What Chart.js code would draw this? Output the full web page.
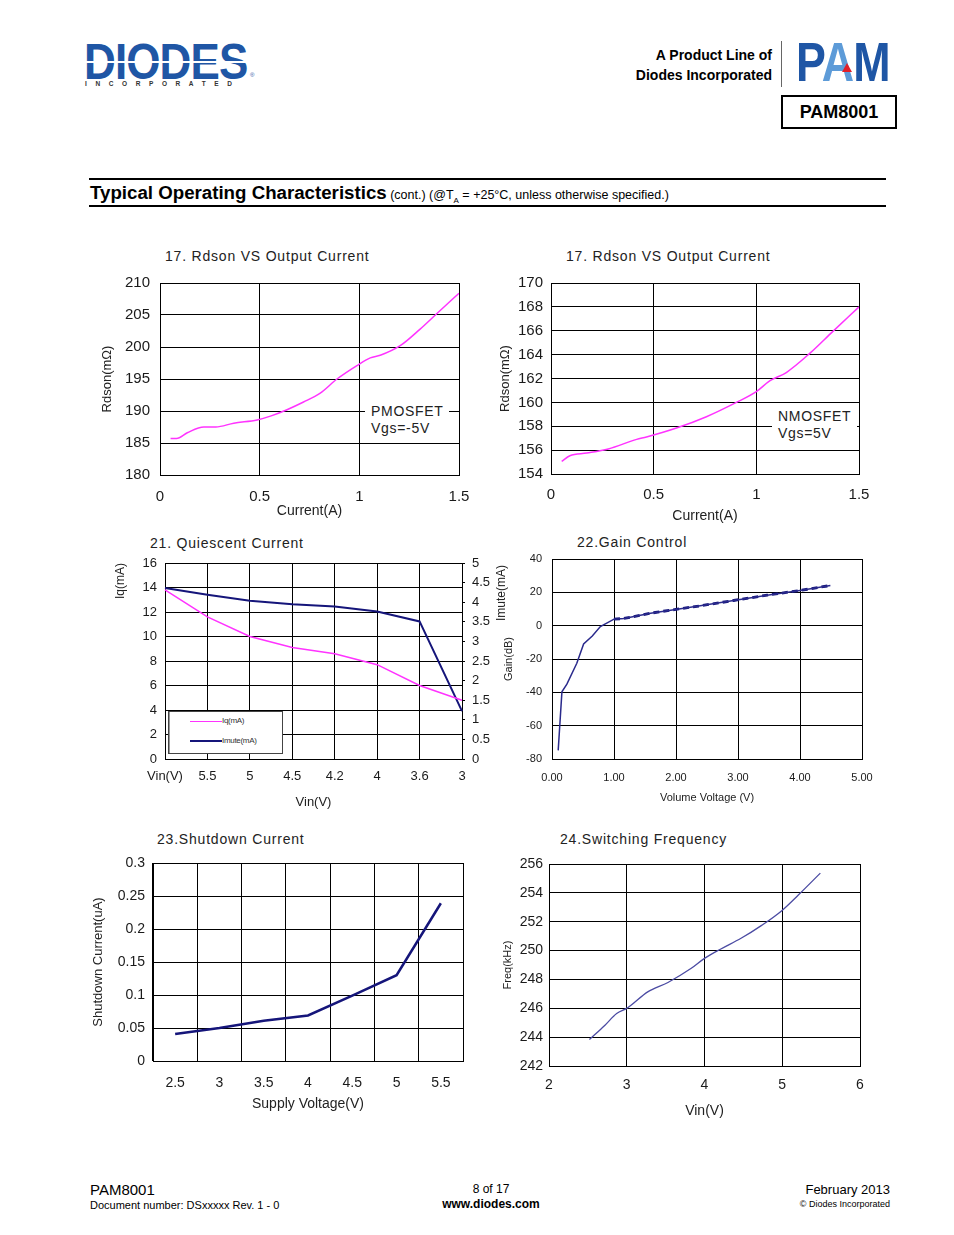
<!DOCTYPE html>
<html>
<head>
<meta charset="utf-8">
<title>PAM8001 - Typical Operating Characteristics</title>
<script src="https://cdn.jsdelivr.net/npm/chart.js@4.4.1/dist/chart.umd.min.js"></script>
<style>
  html, body { margin: 0; padding: 0; background: #fff; }
  body { width: 954px; height: 1235px; position: relative; overflow: hidden;
         font-family: 'Liberation Sans', Arial, sans-serif; color: #000; }
  .abs { position: absolute; white-space: nowrap; }
  .plot { position: absolute; }
  .plot canvas { display: block; }
  .ctitle { position: absolute; font-size: 14px; letter-spacing: 0.8px; color: #222;
            line-height: 16px; white-space: nowrap; }
  .note { position: absolute; background: #fff; font-size: 14px; letter-spacing: 0.7px;
          line-height: 17px; color: #222; white-space: nowrap; }
</style>
</head>
<body>

<!-- ═══ header ═══ -->
<div class="abs" style="left:84px;top:32px;font-size:50px;font-weight:bold;color:#1f56a5;letter-spacing:-1px;transform:scaleX(0.88);transform-origin:left top;line-height:60px;">DIODES</div>
<div class="abs" style="left:84px;top:61px;width:168px;height:2px;background:#fff;"></div>
<div class="abs" style="left:250px;top:72px;font-size:6px;color:#1f56a5;">®</div>
<div class="abs" style="left:85px;top:80px;font-size:6.5px;font-weight:bold;letter-spacing:8.6px;color:#333;">INCORPORATED</div>

<div class="abs" style="right:182px;top:45px;font-size:14px;font-weight:bold;text-align:right;line-height:20px;">A Product Line of<br>Diodes Incorporated</div>
<div class="abs" style="left:781px;top:41px;width:1px;height:46px;background:#666;"></div>
<div class="abs" style="left:796px;top:30px;font-size:56px;font-weight:bold;line-height:64px;transform:scaleX(0.8);transform-origin:left top;letter-spacing:-1px;">
  <span style="color:#1f56a5">P</span><span style="color:#5d9bd8">A</span><span style="color:#1f56a5">M</span>
</div>
<div class="abs" style="left:842px;top:63px;width:0;height:0;border-left:5px solid transparent;border-right:5px solid transparent;border-bottom:9px solid #e0202a;"></div>
<div class="abs" style="left:781px;top:95px;width:112px;height:30px;border:2px solid #000;font-size:18px;font-weight:bold;text-align:center;line-height:30px;">PAM8001</div>

<div class="abs" style="left:89px;top:178px;width:797px;height:2px;background:#000;"></div>
<div class="abs" style="left:90px;top:182px;line-height:22px;"><span style="font-size:18.7px;font-weight:bold;">Typical Operating Characteristics</span><span style="font-size:12.5px;"> (cont.) (@T<sub style="font-size:8px;">A</sub> = +25°C, unless otherwise specified.)</span></div>
<div class="abs" style="left:89px;top:205px;width:797px;height:2px;background:#000;"></div>

<!-- ═══ chart titles ═══ -->
<div class="ctitle" style="left:165px;top:248px;">17. Rdson VS Output Current</div>
<div class="ctitle" style="left:566px;top:248px;">17. Rdson VS Output Current</div>
<div class="ctitle" style="left:150px;top:535px;">21. Quiescent Current</div>
<div class="ctitle" style="left:577px;top:534px;">22.Gain Control</div>
<div class="ctitle" style="left:157px;top:831px;">23.Shutdown Current</div>
<div class="ctitle" style="left:560px;top:831px;">24.Switching Frequency</div>

<!-- ═══ chart frames ═══ -->
<div class="plot" id="pmos"><canvas></canvas></div>
<div class="plot" id="nmos"><canvas></canvas></div>
<div class="plot" id="quiescent"><canvas></canvas></div>
<div class="plot" id="gain"><canvas></canvas></div>
<div class="plot" id="shutdown"><canvas></canvas></div>
<div class="plot" id="freq"><canvas></canvas></div>

<!-- overlays -->
<div class="note" style="left:365px;top:403px;width:84px;height:35px;padding-left:6px;box-sizing:border-box;">PMOSFET<br>Vgs=-5V</div>
<div class="note" style="left:772px;top:408px;width:85px;height:34px;padding-left:6px;box-sizing:border-box;">NMOSFET<br>Vgs=5V</div>

<div class="abs" style="left:168px;top:711px;width:113px;height:41px;background:#fff;border:1px solid #444;box-shadow:inset 1px 0 0 #999;"></div>
<div class="abs" style="left:190px;top:721px;width:32px;height:1px;background:#ff33ff;"></div>
<div class="abs" style="left:222px;top:716px;font-size:8px;letter-spacing:-0.3px;color:#333;">Iq(mA)</div>
<div class="abs" style="left:190px;top:740px;width:32px;height:2px;background:#15157a;"></div>
<div class="abs" style="left:222px;top:736px;font-size:8px;letter-spacing:-0.3px;color:#333;">Imute(mA)</div>

<div class="abs" style="left:471px;top:585px;width:60px;text-align:center;font-size:12px;line-height:16px;color:#222;transform:rotate(-90deg);">Imute(mA)</div>

<!-- ═══ footer ═══ -->
<div class="abs" style="left:90px;top:1181px;font-size:15px;">PAM8001</div>
<div class="abs" style="left:90px;top:1199px;font-size:11px;">Document number: DSxxxxx Rev. 1 - 0</div>
<div class="abs" style="left:391px;width:200px;top:1182px;font-size:12px;text-align:center;">8 of 17</div>
<div class="abs" style="left:391px;width:200px;top:1197px;font-size:12px;font-weight:bold;text-align:center;">www.diodes.com</div>
<div class="abs" style="right:64px;top:1182px;font-size:13px;text-align:right;">February 2013</div>
<div class="abs" style="right:64px;top:1199px;font-size:9px;text-align:right;">© Diodes Incorporated</div>

<script>
/* ═══════════════════════════════════════════════════
   PAM8001 — typical operating characteristics
   ═══════════════════════════════════════════════════ */

// ─────────────────────────────────────────
//  DATA
// ─────────────────────────────────────────
const pmosCurrent = [0.053, 0.083, 0.137, 0.22, 0.28, 0.37, 0.487, 0.554, 0.637, 0.72, 0.804, 0.888, 0.988, 1.055, 1.105, 1.205, 1.305, 1.388, 1.5];
const pmosRdson   = [185.7, 185.7, 186.6, 187.5, 187.5, 188.1, 188.6, 189.2, 190.2, 191.4, 192.8, 195.0, 197.1, 198.3, 198.7, 200.2, 202.8, 205.2, 208.4];
const pmosYRange  = [180, 210, 5];

const nmosCurrent = [0.052, 0.092, 0.174, 0.279, 0.417, 0.465, 0.611, 0.757, 0.903, 1.0, 1.065, 1.146, 1.26, 1.373, 1.5];
const nmosRdson   = [155.06, 155.53, 155.75, 156.1, 156.9, 157.1, 157.85, 158.8, 160.0, 160.9, 161.8, 162.5, 164.1, 165.95, 168.0];
const nmosYRange  = [154, 170, 2];

const currentXRange = [0, 1.5, 0.5];

const vinLabels   = ['Vin(V)', '5.5', '5', '4.5', '4.2', '4', '3.6', '3'];
const iqValues    = [13.8, 11.6, 10.0, 9.1, 8.6, 7.7, 6.0, 4.8];
const imuteValues = [4.36, 4.19, 4.04, 3.95, 3.89, 3.76, 3.51, 1.22];
const iqRange     = [0, 16, 2];
const imuteRange  = [0, 5, 0.5];

const gainVolume  = [0.10, 0.16, 0.24, 0.40, 0.51, 0.65, 0.78, 1.0, 1.16, 1.59, 2.02, 2.39, 2.93, 3.47, 4.0, 4.49];
const gainDb      = [-74.8, -39.7, -35.1, -22.6, -11.0, -6.2, -0.5, 3.9, 4.3, 7.5, 9.9, 11.9, 15.1, 18.3, 21.1, 24.1];
const gainXRange  = [0, 5, 1];
const gainYRange  = [-80, 40, 20];

const supplyLabels   = ['2.5', '3', '3.5', '4', '4.5', '5', '5.5'];
const shutdownValues = [0.041, 0.050, 0.061, 0.069, 0.099, 0.130, 0.239];
const shutdownRange  = [0, 0.3, 0.05];

const freqVin    = [2.52, 2.72, 2.87, 3.01, 3.27, 3.53, 3.83, 4.0, 4.21, 4.47, 4.73, 4.99, 5.21, 5.49];
const freqKhz    = [243.83, 244.83, 245.64, 246.03, 247.14, 247.79, 248.77, 249.46, 250.11, 250.85, 251.73, 252.75, 253.87, 255.37];
const freqXRange = [2, 6, 1];
const freqYRange = [242, 256, 2];

// ─────────────────────────────────────────
//  HELPERS
// ─────────────────────────────────────────
const SANS = "'Liberation Sans', Arial, sans-serif";
const NARROW = "'Liberation Sans Narrow', 'Liberation Sans', Arial, sans-serif";
const INK = '#1a1a1a';
const MAGENTA = '#ff33ff';
const NAVY = '#15157a';

const pts = (xs, ys) => xs.map((x, i) => ({ x: x, y: ys[i] }));
const plain = v => String(+Number(v).toFixed(3));   // 0.30 -> "0.3", 5.0 -> "5"

// box: plot area (pl, pt, pr, pb) and frame (L, T, R, B) in page pixels
function axis(kind, box, o) {
    const s = {
        type: o.type || 'linear',
        position: o.position,
        offset: !!o.offset,
        grid: { color: '#000', lineWidth: 1, drawTicks: false, offset: !!o.offset },
        border: { color: '#000', width: 1 },
        ticks: {
            color: INK, padding: o.pad, autoSkip: false, maxRotation: 0,
            font: { family: o.family || SANS, size: o.size },
        },
    };
    if (o.range) {
        s.min = o.range[0];
        s.max = o.range[1];
        s.ticks.stepSize = o.range[2];
        s.ticks.callback = o.format || plain;
    }
    if (o.title) {
        s.title = {
            display: true, text: o.title, color: '#222', padding: 0,
            align: o.titleAlign || 'center',
            font: { family: o.titleFamily || SANS, size: o.titleSize },
        };
    }
    if (kind === 'x') s.afterFit = sc => { sc.height = box.B - box.pb; };
    else s.afterFit = sc => { sc.width = box.pl - box.L; };
    return s;
}

function drawChart(id, box, data, scales, rightW) {
    const wrap = document.getElementById(id);
    Object.assign(wrap.style, {
        left: box.L + 'px', top: box.T + 'px',
        width: (box.R - box.L) + 'px', height: (box.B - box.T) + 'px',
    });
    return new Chart(wrap.querySelector('canvas'), {
        type: 'line',
        data: data,
        options: {
            responsive: true,
            maintainAspectRatio: false,
            animation: false,
            layout: { padding: { left: 0, bottom: 0, top: box.pt - box.T, right: box.R - box.pr - (rightW || 0) } },
            plugins: { legend: { display: false }, tooltip: { enabled: false } },
            elements: { point: { radius: 0 } },
            scales: scales,
        },
    });
}

// ─────────────────────────────────────────
//  1. RDSON PMOSFET
// ─────────────────────────────────────────
const boxP = { pl: 160, pt: 283, pr: 459, pb: 475, L: 100, T: 259, R: 491, B: 520 };
drawChart('pmos', boxP, {
    datasets: [{ data: pts(pmosCurrent, pmosRdson), borderColor: MAGENTA, borderWidth: 1.5, cubicInterpolationMode: 'monotone' }],
}, {
    x: axis('x', boxP, { range: currentXRange, pad: 13, size: 15, title: 'Current(A)', titleSize: 14, titleFamily: NARROW }),
    y: axis('y', boxP, { range: pmosYRange, pad: 10, size: 15, title: 'Rdson(mΩ)', titleSize: 13 }),
});

// ─────────────────────────────────────────
//  2. RDSON NMOSFET
// ─────────────────────────────────────────
const boxN = { pl: 551, pt: 283, pr: 859, pb: 474, L: 498, T: 259, R: 891, B: 525 };
drawChart('nmos', boxN, {
    datasets: [{ data: pts(nmosCurrent, nmosRdson), borderColor: MAGENTA, borderWidth: 1.5, cubicInterpolationMode: 'monotone' }],
}, {
    x: axis('x', boxN, { range: currentXRange, pad: 12, size: 15, title: 'Current(A)', titleSize: 14, titleFamily: NARROW }),
    y: axis('y', boxN, { range: nmosYRange, pad: 8, size: 15, family: NARROW, title: 'Rdson(mΩ)', titleSize: 13 }),
});

// ─────────────────────────────────────────
//  3. QUIESCENT CURRENT (two y axes)
// ─────────────────────────────────────────
const boxQ = { pl: 165, pt: 563, pr: 462, pb: 759, L: 113, T: 539, R: 492, B: 810 };
const qRight = {
    type: 'linear', position: 'right',
    min: imuteRange[0], max: imuteRange[1],
    grid: { drawOnChartArea: false, drawTicks: true, tickLength: 3, color: '#000' },
    border: { color: '#000' },
    ticks: { stepSize: imuteRange[2], padding: 7, color: INK, autoSkip: false, callback: plain, font: { family: SANS, size: 13 } },
    afterFit: sc => { sc.width = 30; },
};
drawChart('quiescent', boxQ, {
    labels: vinLabels,
    datasets: [
        { data: iqValues, yAxisID: 'y', borderColor: MAGENTA, borderWidth: 1.5, tension: 0 },
        { data: imuteValues, yAxisID: 'y2', borderColor: NAVY, borderWidth: 2, tension: 0 },
    ],
}, {
    x: axis('x', boxQ, { type: 'category', pad: 10, size: 13, title: 'Vin(V)', titleSize: 13 }),
    y: axis('y', boxQ, { range: iqRange, pad: 8, size: 13, title: 'Iq(mA)', titleSize: 12, titleAlign: 'end' }),
    y2: qRight,
}, 30);

// ─────────────────────────────────────────
//  4. GAIN CONTROL
// ─────────────────────────────────────────
const boxG = { pl: 552, pt: 559, pr: 862, pb: 759, L: 502, T: 535, R: 894, B: 805 };
const gainPts = pts(gainVolume, gainDb);
drawChart('gain', boxG, {
    datasets: [
        { data: gainPts, borderColor: '#2a2a8c', borderWidth: 1.5, tension: 0 },
        { data: gainPts.filter(p => p.x >= 1), borderColor: '#16167a', borderWidth: 2.8, borderDash: [6, 4], tension: 0 },
    ],
}, {
    x: axis('x', boxG, { range: gainXRange, pad: 12, size: 11, format: v => Number(v).toFixed(2), title: 'Volume Voltage (V)', titleSize: 11 }),
    y: axis('y', boxG, { range: gainYRange, pad: 10, size: 11, title: 'Gain(dB)', titleSize: 11 }),
});

// ─────────────────────────────────────────
//  5. SHUTDOWN CURRENT
// ─────────────────────────────────────────
const boxS = { pl: 153, pt: 863, pr: 463, pb: 1061, L: 91, T: 839, R: 495, B: 1113 };
drawChart('shutdown', boxS, {
    labels: supplyLabels,
    datasets: [{ data: shutdownValues, borderColor: NAVY, borderWidth: 2.5, tension: 0 }],
}, {
    x: axis('x', boxS, { type: 'category', offset: true, pad: 14, size: 14, title: 'Supply Voltage(V)', titleSize: 14, titleFamily: NARROW }),
    y: axis('y', boxS, { range: shutdownRange, pad: 8, size: 14, title: 'Shutdown Current(uA)', titleSize: 13 }),
});

// ─────────────────────────────────────────
//  6. SWITCHING FREQUENCY
// ─────────────────────────────────────────
const boxF = { pl: 549, pt: 864, pr: 860, pb: 1066, L: 501, T: 840, R: 892, B: 1120 };
drawChart('freq', boxF, {
    datasets: [{ data: pts(freqVin, freqKhz), borderColor: '#4b4ba3', borderWidth: 1.3, cubicInterpolationMode: 'monotone' }],
}, {
    x: axis('x', boxF, { range: freqXRange, pad: 11, size: 14, title: 'Vin(V)', titleSize: 14, titleFamily: NARROW }),
    y: axis('y', boxF, { range: freqYRange, pad: 6, size: 14, family: NARROW, title: 'Freq(kHz)', titleSize: 11 }),
});
</script>
</body>
</html>
